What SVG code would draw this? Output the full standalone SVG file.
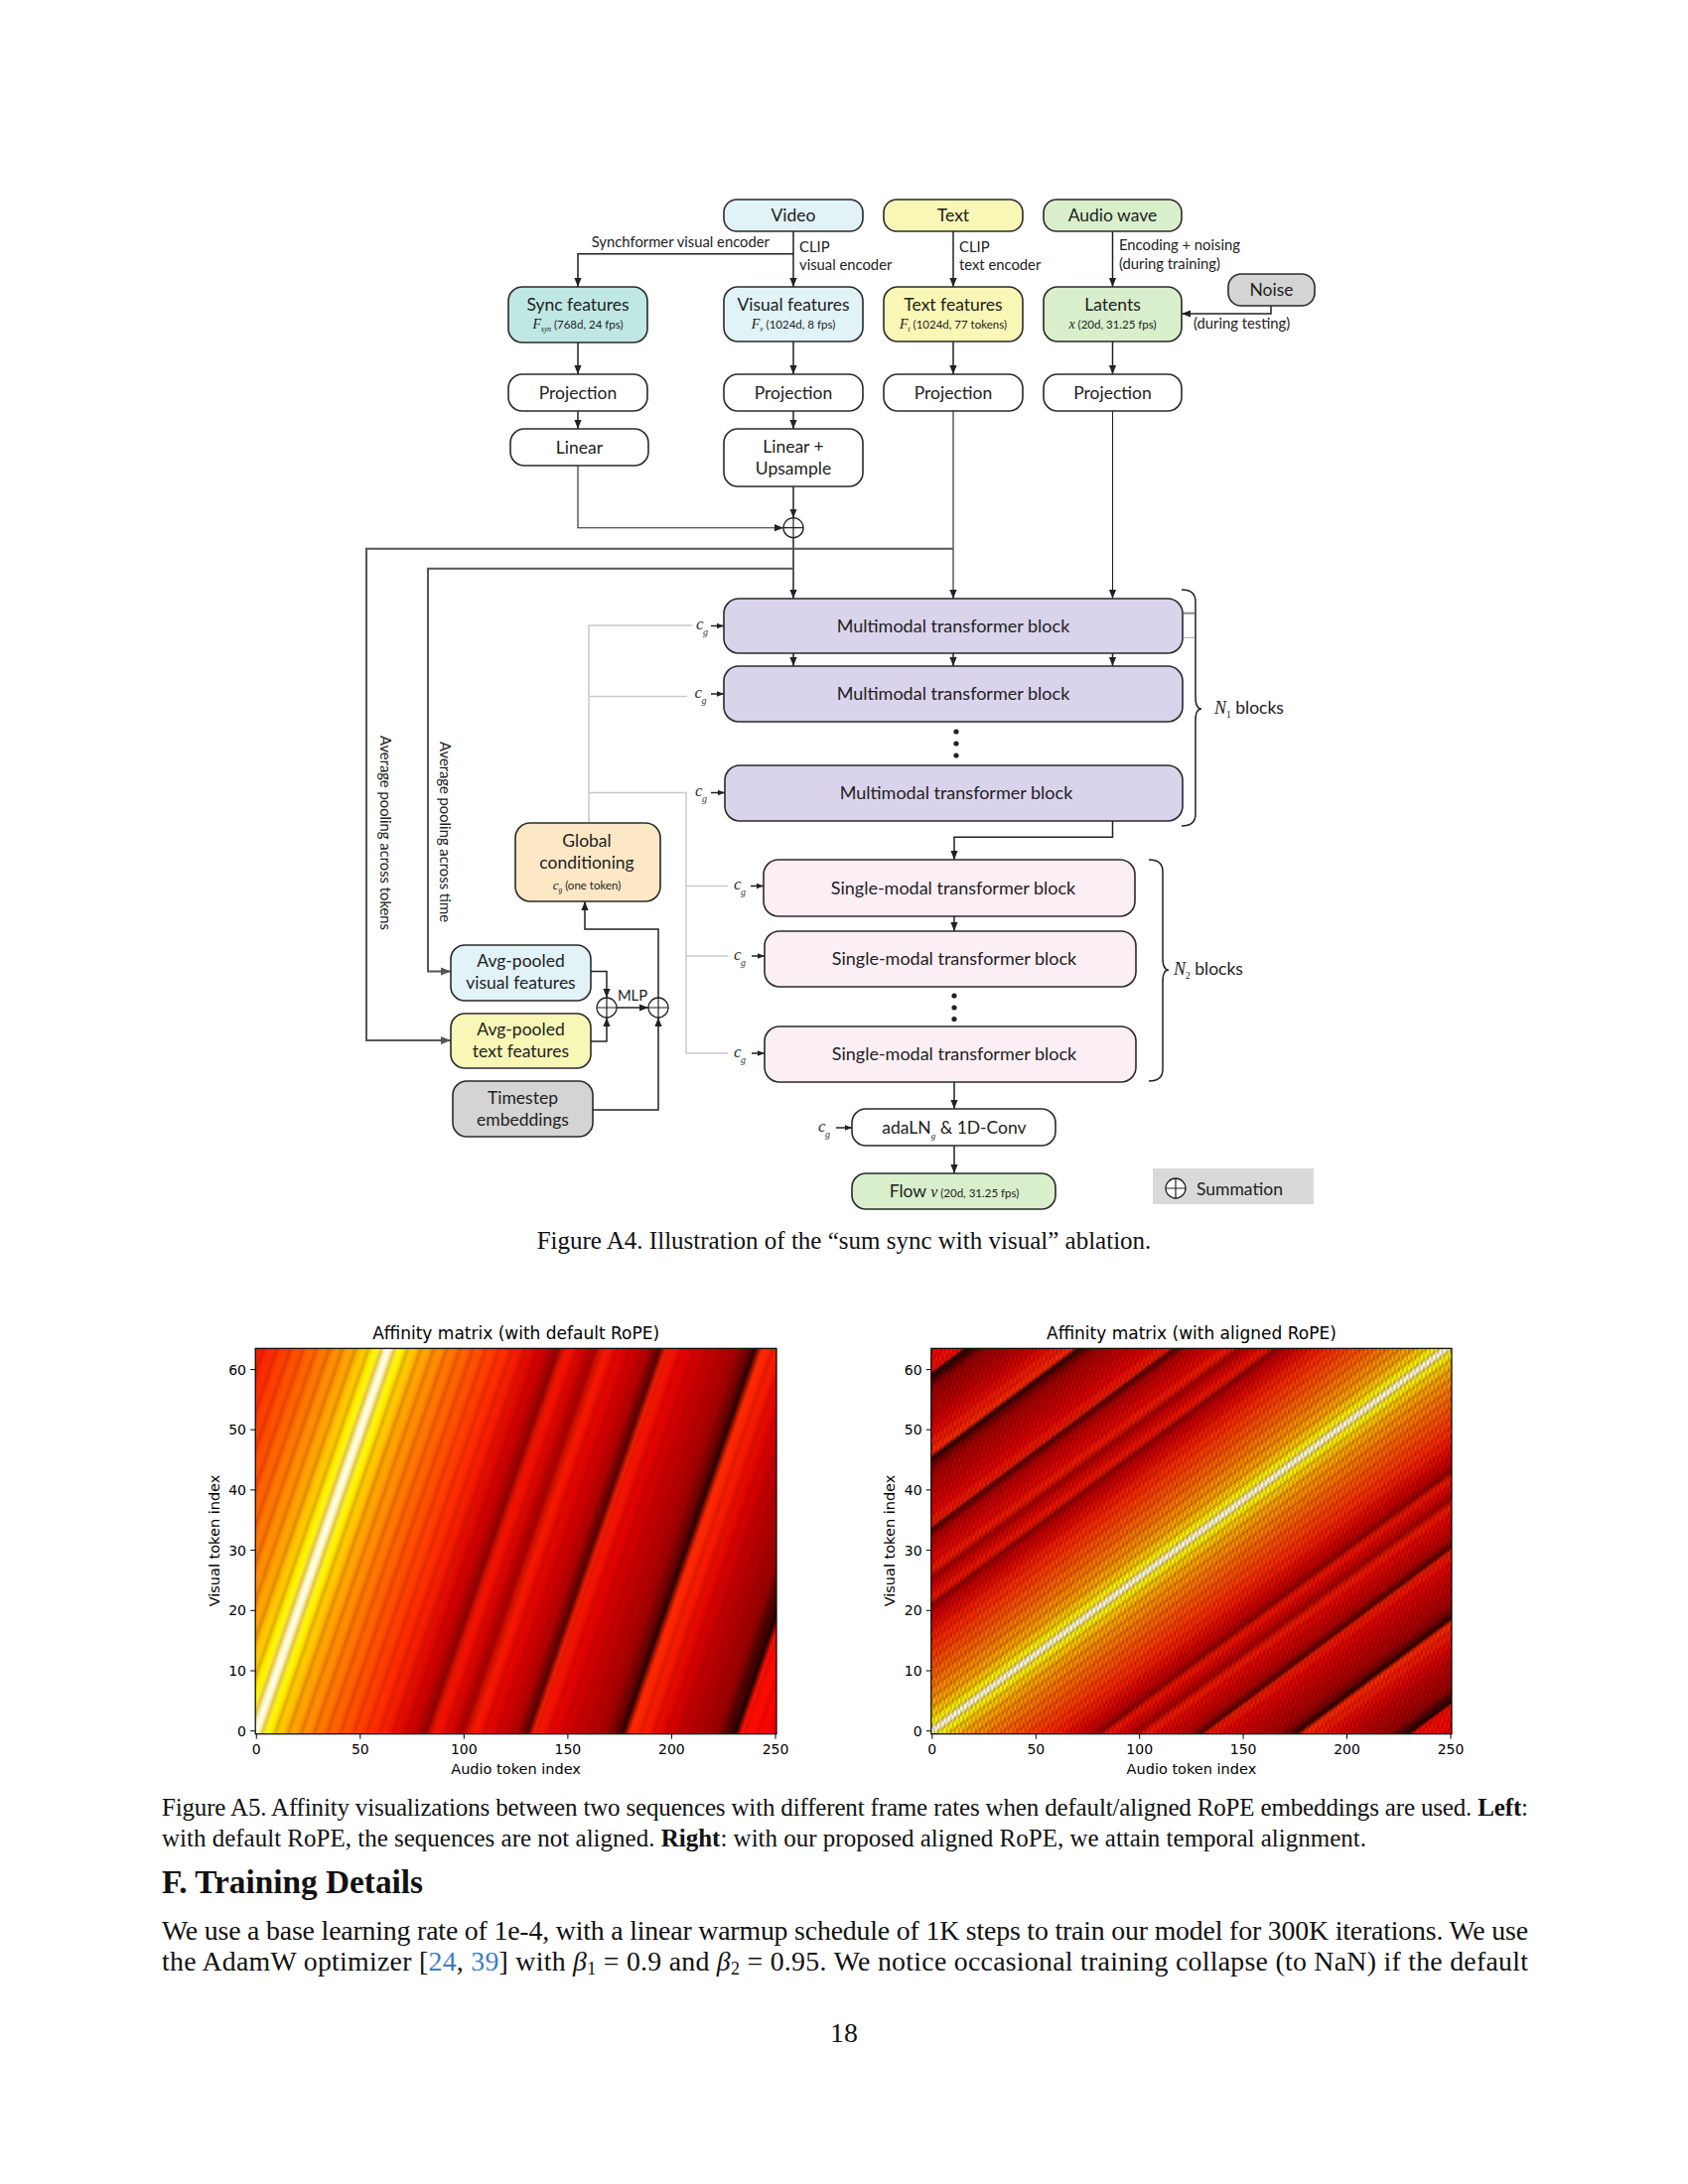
<svg xmlns="http://www.w3.org/2000/svg" width="1700" height="2200" viewBox="0 0 1700 2200">
<style>
  .box { stroke: #2a2a2a; stroke-width: 1.6; }
  .lbl { font-family: Lato, "Liberation Sans", sans-serif; font-size: 17.5px; fill: #222; text-anchor: middle; }
  .blk { font-size: 18px; }
  .start { text-anchor: start; }
  .note { font-family: Lato, "Liberation Sans", sans-serif; font-size: 14.8px; fill: #222; }
  .tiny { font-size: 11.5px; }
  .mi { font-family: "Liberation Serif", "DejaVu Serif", serif; font-style: italic; }
  .conn { fill: none; stroke: #222; stroke-width: 1.5; }
  .thin { stroke-width: 1.1; }
  .pool { fill: none; stroke: #555; stroke-width: 2; }
  .cgl { fill: none; stroke: #c9c9c9; stroke-width: 1.5; }
  .plt { font-family: "DejaVu Sans", sans-serif; fill: #000; }
  .tick { stroke: #000; stroke-width: 1; }
  .serif { font-family: "Liberation Serif", "Times New Roman", serif; fill: #111; }
</style>
<defs>
  <marker id="ah" viewBox="0 0 10 10" refX="10" refY="5" markerWidth="9" markerHeight="9" markerUnits="userSpaceOnUse" orient="auto">
    <path d="M0,1 L10,5 L0,9 z" fill="#222"/>
  </marker>
  <marker id="ahs" viewBox="0 0 10 10" refX="10" refY="5" markerWidth="7" markerHeight="7" markerUnits="userSpaceOnUse" orient="auto">
    <path d="M0,1 L10,5 L0,9 z" fill="#222"/>
  </marker>
  <marker id="ahg" viewBox="0 0 10 10" refX="10" refY="5" markerWidth="10" markerHeight="10" markerUnits="userSpaceOnUse" orient="auto">
    <path d="M0,1 L10,5 L0,9 z" fill="#555"/>
  </marker>
  <g id="sum">
    <circle r="10" fill="#fff" stroke="#222" stroke-width="1.3"/>
    <path d="M-10,0H10M0,-10V10" stroke="#222" stroke-width="1.2"/>
  </g>

  <!-- hot colormap of the RoPE affinity, as a function of the relative offset d -->
  <linearGradient id="gradL" gradientUnits="userSpaceOnUse" x1="138.63" y1="1702.49" x2="727.37" y2="1905.31">
    <stop offset="0" stop-color="#f01900"/>
    <stop offset="0.00317" stop-color="#f41c00"/>
    <stop offset="0.02540" stop-color="#ff2e00"/>
    <stop offset="0.04762" stop-color="#ff4200"/>
    <stop offset="0.06984" stop-color="#ff5600"/>
    <stop offset="0.09206" stop-color="#ff6c00"/>
    <stop offset="0.11111" stop-color="#ff8000"/>
    <stop offset="0.13016" stop-color="#ff9600"/>
    <stop offset="0.14603" stop-color="#ffa800"/>
    <stop offset="0.16190" stop-color="#ffc400"/>
    <stop offset="0.17460" stop-color="#ffe400"/>
    <stop offset="0.18413" stop-color="#fff800"/>
    <stop offset="0.19048" stop-color="#ffff30"/>
    <stop offset="0.19683" stop-color="#ffffa0"/>
    <stop offset="0.20317" stop-color="#ffffff"/>
    <stop offset="0.20952" stop-color="#ffffa0"/>
    <stop offset="0.21587" stop-color="#ffff30"/>
    <stop offset="0.22222" stop-color="#fff800"/>
    <stop offset="0.23175" stop-color="#ffe400"/>
    <stop offset="0.24444" stop-color="#ffc400"/>
    <stop offset="0.26032" stop-color="#ffa800"/>
    <stop offset="0.27619" stop-color="#ff9600"/>
    <stop offset="0.29524" stop-color="#ff8000"/>
    <stop offset="0.31429" stop-color="#ff6c00"/>
    <stop offset="0.33651" stop-color="#ff5600"/>
    <stop offset="0.35873" stop-color="#ff4200"/>
    <stop offset="0.38095" stop-color="#ff2e00"/>
    <stop offset="0.40317" stop-color="#f41c00"/>
    <stop offset="0.42222" stop-color="#e00a00"/>
    <stop offset="0.44127" stop-color="#cc0000"/>
    <stop offset="0.45397" stop-color="#b00000"/>
    <stop offset="0.46349" stop-color="#8a0000"/>
    <stop offset="0.47302" stop-color="#f41800"/>
    <stop offset="0.48889" stop-color="#ec0c00"/>
    <stop offset="0.50794" stop-color="#c20000"/>
    <stop offset="0.52063" stop-color="#a40000"/>
    <stop offset="0.53333" stop-color="#fc1e00"/>
    <stop offset="0.55238" stop-color="#e80800"/>
    <stop offset="0.57778" stop-color="#d00000"/>
    <stop offset="0.60000" stop-color="#b40000"/>
    <stop offset="0.61270" stop-color="#6c0000"/>
    <stop offset="0.61905" stop-color="#560000"/>
    <stop offset="0.62857" stop-color="#fc2000"/>
    <stop offset="0.65397" stop-color="#e60400"/>
    <stop offset="0.67937" stop-color="#d00000"/>
    <stop offset="0.71111" stop-color="#b80000"/>
    <stop offset="0.73651" stop-color="#a20000"/>
    <stop offset="0.75556" stop-color="#5c0000"/>
    <stop offset="0.76508" stop-color="#2c0000"/>
    <stop offset="0.77460" stop-color="#ff2c00"/>
    <stop offset="0.80000" stop-color="#f61a00"/>
    <stop offset="0.82540" stop-color="#e00400"/>
    <stop offset="0.85397" stop-color="#c00000"/>
    <stop offset="0.88571" stop-color="#a80000"/>
    <stop offset="0.90794" stop-color="#940000"/>
    <stop offset="0.92698" stop-color="#400000"/>
    <stop offset="0.93651" stop-color="#100000"/>
    <stop offset="0.94603" stop-color="#ff1000"/>
    <stop offset="0.97143" stop-color="#fc0800"/>
    <stop offset="1" stop-color="#f30000"/>
  </linearGradient>

  <linearGradient id="gradR" gradientUnits="userSpaceOnUse" x1="751.34" y1="1491.67" x2="1126.34" y2="1995.73">
    <stop offset="0" stop-color="#f20000"/>
    <stop offset="0.00794" stop-color="#f60000"/>
    <stop offset="0.01984" stop-color="#fc0800"/>
    <stop offset="0.03571" stop-color="#ff1000"/>
    <stop offset="0.04167" stop-color="#100000"/>
    <stop offset="0.04762" stop-color="#400000"/>
    <stop offset="0.05952" stop-color="#940000"/>
    <stop offset="0.07341" stop-color="#a80000"/>
    <stop offset="0.09325" stop-color="#c00000"/>
    <stop offset="0.11111" stop-color="#e00400"/>
    <stop offset="0.12698" stop-color="#f61a00"/>
    <stop offset="0.14286" stop-color="#ff2c00"/>
    <stop offset="0.14881" stop-color="#2c0000"/>
    <stop offset="0.15476" stop-color="#5c0000"/>
    <stop offset="0.16667" stop-color="#a20000"/>
    <stop offset="0.18254" stop-color="#b80000"/>
    <stop offset="0.20238" stop-color="#d00000"/>
    <stop offset="0.21825" stop-color="#e60400"/>
    <stop offset="0.23413" stop-color="#fc2000"/>
    <stop offset="0.24008" stop-color="#560000"/>
    <stop offset="0.24405" stop-color="#6c0000"/>
    <stop offset="0.25198" stop-color="#b40000"/>
    <stop offset="0.26587" stop-color="#d00000"/>
    <stop offset="0.28175" stop-color="#e80800"/>
    <stop offset="0.29365" stop-color="#fc1e00"/>
    <stop offset="0.30159" stop-color="#a40000"/>
    <stop offset="0.30952" stop-color="#c20000"/>
    <stop offset="0.32143" stop-color="#ec0c00"/>
    <stop offset="0.33135" stop-color="#f41800"/>
    <stop offset="0.33730" stop-color="#8a0000"/>
    <stop offset="0.34325" stop-color="#b00000"/>
    <stop offset="0.35119" stop-color="#cc0000"/>
    <stop offset="0.36310" stop-color="#e00a00"/>
    <stop offset="0.37500" stop-color="#f41c00"/>
    <stop offset="0.38889" stop-color="#ff2e00"/>
    <stop offset="0.40278" stop-color="#ff4200"/>
    <stop offset="0.41667" stop-color="#ff5600"/>
    <stop offset="0.43056" stop-color="#ff6c00"/>
    <stop offset="0.44246" stop-color="#ff8000"/>
    <stop offset="0.45437" stop-color="#ff9600"/>
    <stop offset="0.46429" stop-color="#ffa800"/>
    <stop offset="0.47421" stop-color="#ffc400"/>
    <stop offset="0.48214" stop-color="#ffe400"/>
    <stop offset="0.48810" stop-color="#fff800"/>
    <stop offset="0.49206" stop-color="#ffff30"/>
    <stop offset="0.49603" stop-color="#ffffa0"/>
    <stop offset="0.5" stop-color="#ffffff"/>
    <stop offset="0.50397" stop-color="#ffffa0"/>
    <stop offset="0.50794" stop-color="#ffff30"/>
    <stop offset="0.51190" stop-color="#fff800"/>
    <stop offset="0.51786" stop-color="#ffe400"/>
    <stop offset="0.52579" stop-color="#ffc400"/>
    <stop offset="0.53571" stop-color="#ffa800"/>
    <stop offset="0.54563" stop-color="#ff9600"/>
    <stop offset="0.55754" stop-color="#ff8000"/>
    <stop offset="0.56944" stop-color="#ff6c00"/>
    <stop offset="0.58333" stop-color="#ff5600"/>
    <stop offset="0.59722" stop-color="#ff4200"/>
    <stop offset="0.61111" stop-color="#ff2e00"/>
    <stop offset="0.62500" stop-color="#f41c00"/>
    <stop offset="0.63690" stop-color="#e00a00"/>
    <stop offset="0.64881" stop-color="#cc0000"/>
    <stop offset="0.65675" stop-color="#b00000"/>
    <stop offset="0.66270" stop-color="#8a0000"/>
    <stop offset="0.66865" stop-color="#f41800"/>
    <stop offset="0.67857" stop-color="#ec0c00"/>
    <stop offset="0.69048" stop-color="#c20000"/>
    <stop offset="0.69841" stop-color="#a40000"/>
    <stop offset="0.70635" stop-color="#fc1e00"/>
    <stop offset="0.71825" stop-color="#e80800"/>
    <stop offset="0.73413" stop-color="#d00000"/>
    <stop offset="0.74802" stop-color="#b40000"/>
    <stop offset="0.75595" stop-color="#6c0000"/>
    <stop offset="0.75992" stop-color="#560000"/>
    <stop offset="0.76587" stop-color="#fc2000"/>
    <stop offset="0.78175" stop-color="#e60400"/>
    <stop offset="0.79762" stop-color="#d00000"/>
    <stop offset="0.81746" stop-color="#b80000"/>
    <stop offset="0.83333" stop-color="#a20000"/>
    <stop offset="0.84524" stop-color="#5c0000"/>
    <stop offset="0.85119" stop-color="#2c0000"/>
    <stop offset="0.85714" stop-color="#ff2c00"/>
    <stop offset="0.87302" stop-color="#f61a00"/>
    <stop offset="0.88889" stop-color="#e00400"/>
    <stop offset="0.90675" stop-color="#c00000"/>
    <stop offset="0.92659" stop-color="#a80000"/>
    <stop offset="0.94048" stop-color="#940000"/>
    <stop offset="0.95238" stop-color="#400000"/>
    <stop offset="0.95833" stop-color="#100000"/>
    <stop offset="0.96429" stop-color="#ff1000"/>
    <stop offset="0.98016" stop-color="#fc0800"/>
    <stop offset="0.99206" stop-color="#f60000"/>
    <stop offset="1" stop-color="#f20000"/>
  </linearGradient>

  <!-- fine ripple of the highest RoPE frequency (period 2*pi in d) -->
  <linearGradient id="ripple" x1="0" y1="0" x2="1" y2="0">
    <stop offset="0" stop-color="#900000" stop-opacity="0"/>
    <stop offset="0.25" stop-color="#900000" stop-opacity="0.05"/>
    <stop offset="0.5" stop-color="#900000" stop-opacity="0.25"/>
    <stop offset="0.75" stop-color="#900000" stop-opacity="0.05"/>
    <stop offset="1" stop-color="#900000" stop-opacity="0"/>
  </linearGradient>
  <pattern id="stripesL" patternUnits="userSpaceOnUse" width="13.137" height="60" patternTransform="translate(258.25,1743.7) skewX(-19)">
    <rect width="13.137" height="60" fill="url(#ripple)"/>
  </pattern>
  <pattern id="stripesR" patternUnits="userSpaceOnUse" width="13.122" height="60" patternTransform="translate(938.84,1743.7) skewX(-53.35)">
    <rect width="13.122" height="60" fill="url(#ripple)"/>
  </pattern>
  <pattern id="checkR" patternUnits="userSpaceOnUse" x="937.8" y="1358.3" width="4.1768" height="12.138">
    <rect x="0" y="0" width="2.0884" height="6.069" fill="#000" fill-opacity="0.2"/>
    <rect x="2.0884" y="6.069" width="2.0884" height="6.069" fill="#000" fill-opacity="0.2"/>
  </pattern>
</defs>

<rect width="1700" height="2200" fill="#fff"/>

<!-- ================= Figure A4: architecture ================= -->
<g id="connectors">
  <!-- inputs to encoders -->
  <path class="conn" d="M799,233 V289" marker-end="url(#ah)"/>
  <path class="conn" stroke-width="2" d="M799,255.7 H582 V289" marker-end="url(#ah)"/>
  <path class="conn" d="M960,233 V289" marker-end="url(#ah)"/>
  <path class="conn" d="M1120.5,233 V289" marker-end="url(#ah)"/>
  <path class="conn" d="M1280,308 V316 H1190" marker-end="url(#ah)"/>
  <!-- features to projections -->
  <path class="conn" d="M582,345 V377" marker-end="url(#ah)"/>
  <path class="conn" d="M799,344 V377" marker-end="url(#ah)"/>
  <path class="conn" d="M960,344 V377" marker-end="url(#ah)"/>
  <path class="conn" d="M1120.5,344 V377" marker-end="url(#ah)"/>
  <path class="conn" d="M582,414 V432" marker-end="url(#ah)"/>
  <path class="conn" d="M799,414 V432" marker-end="url(#ah)"/>
  <!-- sync + visual summation -->
  <path class="conn thin" d="M582,469 V531.7 H789" marker-end="url(#ah)"/>
  <path class="conn" d="M799,490 V521.7" marker-end="url(#ah)"/>
  <path class="conn" d="M799,541.7 V603" marker-end="url(#ah)"/>
  <path class="conn thin" d="M960,414 V603" marker-end="url(#ah)"/>
  <path class="conn thin" d="M1120.5,414 V603" marker-end="url(#ah)"/>
  <!-- average pooling branches -->
  <path class="pool" d="M960,552.7 H369 V1048 H454" marker-end="url(#ahg)"/>
  <path class="pool" d="M799,572.7 H431 V978.5 H454" marker-end="url(#ahg)"/>
  <!-- between multimodal blocks -->
  <path class="conn" d="M799,658 V671" marker-end="url(#ah)"/>
  <path class="conn" d="M960,658 V671" marker-end="url(#ah)"/>
  <path class="conn" d="M1120.5,658 V671" marker-end="url(#ah)"/>
  <path class="conn" d="M1120.5,827 V843.3 H961 V866" marker-end="url(#ah)"/>
  <path class="conn" d="M961,923 V938" marker-end="url(#ah)"/>
  <path class="conn" d="M961,1090 V1117" marker-end="url(#ah)"/>
  <path class="conn" d="M961,1154 V1182" marker-end="url(#ah)"/>
  <!-- global conditioning distribution -->
  <path class="cgl" d="M593,829 V630 H697"/>
  <path class="cgl" d="M593,701.5 H692"/>
  <path class="cgl" d="M593,798.5 H691 V1061 H733"/>
  <path class="cgl" d="M691,892.5 H733"/>
  <path class="cgl" stroke-width="1" d="M691,963 H733"/>
  <path class="conn" d="M716,630.5 H729" marker-end="url(#ahs)"/>
  <path class="conn" d="M716,699 H729" marker-end="url(#ahs)"/>
  <path class="conn" d="M716,798.5 H730" marker-end="url(#ahs)"/>
  <path class="conn" d="M756,892.5 H769" marker-end="url(#ahs)"/>
  <path class="conn" d="M757,963 H770" marker-end="url(#ahs)"/>
  <path class="conn" d="M757,1061 H770" marker-end="url(#ahs)"/>
  <path class="conn" d="M842,1136 H858" marker-end="url(#ahs)"/>
  <!-- conditioning MLP path -->
  <path class="conn" d="M595,978.5 H611 V1005" marker-end="url(#ah)"/>
  <path class="conn" d="M595,1049 H611 V1025" marker-end="url(#ah)"/>
  <path class="conn" d="M621,1015 H653" marker-end="url(#ah)"/>
  <path class="conn" d="M597,1118 H663 V1025" marker-end="url(#ah)"/>
  <path class="conn" d="M663,1005 V936 H589 V908" marker-end="url(#ah)"/>
  <!-- braces -->
  <path class="conn" stroke-width="1.4" d="M1190,594 Q1204,594 1204,606 V702 Q1204,714 1210,714 Q1204,714 1204,726 V820 Q1204,832 1190,832"/>
  <path d="M1192,617.7 H1203" stroke="#888" stroke-width="2"/>
  <path d="M1192,642.3 H1203" stroke="#aaa" stroke-width="1"/>
  <path class="conn" stroke-width="1.4" d="M1157,866 Q1171,866 1171,878 V965 Q1171,977 1177,977 Q1171,977 1171,989 V1077 Q1171,1089 1157,1089"/>
</g>

<g id="encoder-labels" class="note">
  <text x="775" y="248.5" text-anchor="end">Synchformer visual encoder</text>
  <text x="805" y="253.5">CLIP</text>
  <text x="805" y="271.5">visual encoder</text>
  <text x="966" y="253.5">CLIP</text>
  <text x="966" y="271.5">text encoder</text>
  <text x="1127" y="252">Encoding + noising</text>
  <text x="1127" y="270.5">(during training)</text>
  <text x="1202" y="330.5">(during testing)</text>
</g>

<g id="video">
  <rect class="box" x="729" y="201" width="140" height="32" rx="13" fill="#e1f3f7"/>
  <text class="lbl" x="799" y="223">Video</text>
</g>
<g id="text">
  <rect class="box" x="890" y="201" width="140" height="32" rx="13" fill="#f9f7b5"/>
  <text class="lbl" x="960" y="223">Text</text>
</g>
<g id="audio-wave">
  <rect class="box" x="1051" y="201" width="139" height="32" rx="13" fill="#d9efcc"/>
  <text class="lbl" x="1120.5" y="223">Audio wave</text>
</g>
<g id="noise">
  <rect class="box" x="1237" y="276" width="87" height="32" rx="13" fill="#d4d4d4"/>
  <text class="lbl" x="1280.5" y="298">Noise</text>
</g>

<g id="sync-features">
  <rect class="box" x="512" y="289" width="140" height="56" rx="14" fill="#bfe8e3"/>
  <text class="lbl" x="582" y="313">Sync features</text>
  <text class="lbl tiny" x="582" y="331"><tspan class="mi" font-size="14">F</tspan><tspan class="mi" font-size="7.5" dy="3">syn</tspan><tspan dy="-3"> (768d, 24 fps)</tspan></text>
</g>
<g id="visual-features">
  <rect class="box" x="729" y="289" width="140" height="55" rx="14" fill="#e1f3f7"/>
  <text class="lbl" x="799" y="313">Visual features</text>
  <text class="lbl tiny" x="799" y="331"><tspan class="mi" font-size="14">F</tspan><tspan class="mi" font-size="7.5" dy="3">v</tspan><tspan dy="-3"> (1024d, 8 fps)</tspan></text>
</g>
<g id="text-features">
  <rect class="box" x="890" y="289" width="140" height="55" rx="14" fill="#f9f7b5"/>
  <text class="lbl" x="960" y="313">Text features</text>
  <text class="lbl tiny" x="960" y="331"><tspan class="mi" font-size="14">F</tspan><tspan class="mi" font-size="7.5" dy="3">t</tspan><tspan dy="-3"> (1024d, 77 tokens)</tspan></text>
</g>
<g id="latents">
  <rect class="box" x="1051" y="289" width="139" height="55" rx="14" fill="#d9efcc"/>
  <text class="lbl" x="1120.5" y="313">Latents</text>
  <text class="lbl tiny" x="1120.5" y="331"><tspan class="mi" font-size="14">x</tspan> (20d, 31.25 fps)</text>
</g>

<g id="projection-sync">
  <rect class="box" x="512" y="377" width="140" height="37" rx="14" fill="#fff"/>
  <text class="lbl" x="582" y="401.5">Projection</text>
</g>
<g id="projection-visual">
  <rect class="box" x="729" y="377" width="140" height="37" rx="14" fill="#fff"/>
  <text class="lbl" x="799" y="401.5">Projection</text>
</g>
<g id="projection-text">
  <rect class="box" x="890" y="377" width="140" height="37" rx="14" fill="#fff"/>
  <text class="lbl" x="960" y="401.5">Projection</text>
</g>
<g id="projection-audio">
  <rect class="box" x="1051" y="377" width="139" height="37" rx="14" fill="#fff"/>
  <text class="lbl" x="1120.5" y="401.5">Projection</text>
</g>
<g id="linear">
  <rect class="box" x="514" y="432" width="139" height="37" rx="14" fill="#fff"/>
  <text class="lbl" x="583.5" y="456.5">Linear</text>
</g>
<g id="linear-upsample">
  <rect class="box" x="729" y="432" width="140" height="58" rx="14" fill="#fff"/>
  <text class="lbl" x="799" y="456">Linear +</text>
  <text class="lbl" x="799" y="478">Upsample</text>
</g>
<g id="sum-sync-visual"><use href="#sum" x="799" y="531.7"/></g>

<g id="mm-block-1">
  <rect class="box" x="729" y="603" width="462" height="55" rx="15" fill="#dad3ec"/>
  <text class="lbl blk" x="960" y="636.5">Multimodal transformer block</text>
</g>
<g id="mm-block-2">
  <rect class="box" x="729" y="671" width="462" height="56" rx="15" fill="#dad3ec"/>
  <text class="lbl blk" x="960" y="705">Multimodal transformer block</text>
</g>
<g id="mm-dots" fill="#222">
  <circle cx="963" cy="737" r="2.6"/><circle cx="963" cy="749" r="2.6"/><circle cx="963" cy="761" r="2.6"/>
</g>
<g id="mm-block-3">
  <rect class="box" x="730" y="771" width="461" height="56" rx="15" fill="#dad3ec"/>
  <text class="lbl blk" x="963" y="805">Multimodal transformer block</text>
</g>
<g id="n1-label">
  <text x="1223" y="719" class="lbl start"><tspan class="mi" font-size="18">N</tspan><tspan font-family="Liberation Serif, serif" font-size="9.5" dy="4">1</tspan><tspan dy="-4"> blocks</tspan></text>
</g>

<g id="sm-block-1">
  <rect class="box" x="769" y="866" width="374" height="57" rx="15" fill="#fceef5"/>
  <text class="lbl blk" x="960" y="900.5">Single-modal transformer block</text>
</g>
<g id="sm-block-2">
  <rect class="box" x="770" y="938" width="374" height="56" rx="15" fill="#fceef5"/>
  <text class="lbl blk" x="961" y="972">Single-modal transformer block</text>
</g>
<g id="sm-dots" fill="#222">
  <circle cx="961" cy="1003" r="2.6"/><circle cx="961" cy="1015" r="2.6"/><circle cx="961" cy="1026.5" r="2.6"/>
</g>
<g id="sm-block-3">
  <rect class="box" x="770" y="1034" width="374" height="56" rx="15" fill="#fceef5"/>
  <text class="lbl blk" x="961" y="1068">Single-modal transformer block</text>
</g>
<g id="n2-label">
  <text x="1182" y="982" class="lbl start"><tspan class="mi" font-size="18">N</tspan><tspan font-family="Liberation Serif, serif" font-size="9.5" dy="4">2</tspan><tspan dy="-4"> blocks</tspan></text>
</g>

<g id="cg-labels" class="mi" fill="#333">
  <text x="701" y="634" font-size="17">c</text><text x="708" y="640" font-size="10">g</text>
  <text x="699.5" y="702.5" font-size="17">c</text><text x="706.5" y="708.5" font-size="10">g</text>
  <text x="700" y="802" font-size="17">c</text><text x="707" y="808" font-size="10">g</text>
  <text x="739" y="896" font-size="17">c</text><text x="746" y="902" font-size="10">g</text>
  <text x="739" y="966.5" font-size="17">c</text><text x="746" y="972.5" font-size="10">g</text>
  <text x="739" y="1064.5" font-size="17">c</text><text x="746" y="1070.5" font-size="10">g</text>
  <text x="824" y="1139.5" font-size="17">c</text><text x="831" y="1145.5" font-size="10">g</text>
</g>

<g id="global-conditioning">
  <rect class="box" x="519" y="829" width="146" height="79" rx="15" fill="#fde8c6"/>
  <text class="lbl" x="591" y="852.5">Global</text>
  <text class="lbl" x="591" y="874.5">conditioning</text>
  <text class="lbl tiny" x="591" y="896"><tspan class="mi" font-size="13">c</tspan><tspan class="mi" font-size="7.5" dy="3">g</tspan><tspan dy="-3"> (one token)</tspan></text>
</g>

<g id="pooling-labels" class="note">
  <text transform="translate(382.5,839) rotate(90)" text-anchor="middle">Average pooling across tokens</text>
  <text transform="translate(443,838) rotate(90)" text-anchor="middle">Average pooling across time</text>
</g>

<g id="avg-pooled-visual">
  <rect class="box" x="454" y="952" width="141" height="56" rx="14" fill="#e1f3f7"/>
  <text class="lbl" x="524.5" y="974">Avg-pooled</text>
  <text class="lbl" x="524.5" y="996">visual features</text>
</g>
<g id="avg-pooled-text">
  <rect class="box" x="454" y="1021" width="141" height="55" rx="14" fill="#f9f7b5"/>
  <text class="lbl" x="524.5" y="1042.5">Avg-pooled</text>
  <text class="lbl" x="524.5" y="1064.5">text features</text>
</g>
<g id="timestep-embeddings">
  <rect class="box" x="456" y="1089" width="141" height="56" rx="14" fill="#d4d4d4"/>
  <text class="lbl" x="526.5" y="1112">Timestep</text>
  <text class="lbl" x="526.5" y="1134">embeddings</text>
</g>
<g id="sum-pooled"><use href="#sum" x="611" y="1015"/></g>
<g id="sum-timestep"><use href="#sum" x="663" y="1015"/></g>
<text class="note" x="637" y="1008" font-size="12.5" text-anchor="middle">MLP</text>

<g id="adaln-conv">
  <rect class="box" x="858" y="1117" width="205" height="37" rx="14" fill="#fff"/>
  <text class="lbl" x="961" y="1141.5">adaLN<tspan class="mi" font-size="9" dy="5">g</tspan><tspan dy="-5"> &amp; 1D-Conv</tspan></text>
</g>
<g id="flow">
  <rect class="box" x="858" y="1182" width="205" height="36" rx="14" fill="#d9efcc"/>
  <text class="lbl" x="961" y="1206">Flow <tspan class="mi" font-size="16">v</tspan><tspan class="tiny"> (20d, 31.25 fps)</tspan></text>
</g>

<g id="legend-summation">
  <rect x="1161" y="1177" width="162" height="36" fill="#d9d9d9"/>
  <use href="#sum" x="1184" y="1197"/>
  <text class="lbl start" x="1205" y="1203.5">Summation</text>
</g>

<text class="serif" x="850" y="1258" font-size="25" text-anchor="middle">Figure A4. Illustration of the “sum sync with visual” ablation.</text>

<!-- ================= Figure A5: affinity matrices ================= -->
<g id="plot-default-rope">
  <rect x="257.2" y="1358.3" width="524.8" height="388.4" fill="url(#gradL)"/>
  <rect x="257.2" y="1358.3" width="524.8" height="388.4" fill="url(#stripesL)"/>
  <rect x="257.2" y="1358.3" width="524.8" height="388.4" fill="none" stroke="#000" stroke-width="1.2"/>
  <g class="tick">
    <path d="M252.2,1743.7H257.2M252.2,1683H257.2M252.2,1622.3H257.2M252.2,1561.6H257.2M252.2,1500.9H257.2M252.2,1440.2H257.2M252.2,1379.6H257.2"/>
    <path d="M258.25,1746.7V1751.7M362.8,1746.7V1751.7M467.3,1746.7V1751.7M571.9,1746.7V1751.7M676.4,1746.7V1751.7M781,1746.7V1751.7"/>
  </g>
  <g class="plt" font-size="14" text-anchor="end">
    <text x="248" y="1748.7">0</text><text x="248" y="1688">10</text><text x="248" y="1627.3">20</text>
    <text x="248" y="1566.6">30</text><text x="248" y="1505.9">40</text><text x="248" y="1445.2">50</text><text x="248" y="1384.6">60</text>
  </g>
  <g class="plt" font-size="14" text-anchor="middle">
    <text x="258.25" y="1767">0</text><text x="362.8" y="1767">50</text><text x="467.3" y="1767">100</text>
    <text x="571.9" y="1767">150</text><text x="676.4" y="1767">200</text><text x="781" y="1767">250</text>
  </g>
  <text class="plt" x="519.6" y="1349" font-size="17" text-anchor="middle">Affinity matrix (with default RoPE)</text>
  <text class="plt" x="519.6" y="1787" font-size="14.5" text-anchor="middle">Audio token index</text>
  <text class="plt" transform="translate(221,1552) rotate(-90)" font-size="14.5" text-anchor="middle">Visual token index</text>
</g>

<g id="plot-aligned-rope">
  <rect x="937.8" y="1358.3" width="524.2" height="388.4" fill="url(#gradR)"/>
  <rect x="937.8" y="1358.3" width="524.2" height="388.4" fill="url(#stripesR)"/>
  <rect x="937.8" y="1358.3" width="524.2" height="388.4" fill="url(#checkR)"/>
  <rect x="937.8" y="1358.3" width="524.2" height="388.4" fill="none" stroke="#000" stroke-width="1.2"/>
  <g class="tick">
    <path d="M932.8,1743.7H937.8M932.8,1683H937.8M932.8,1622.3H937.8M932.8,1561.6H937.8M932.8,1500.9H937.8M932.8,1440.2H937.8M932.8,1379.6H937.8"/>
    <path d="M938.8,1746.7V1751.7M1043.3,1746.7V1751.7M1147.7,1746.7V1751.7M1252.1,1746.7V1751.7M1356.5,1746.7V1751.7M1461,1746.7V1751.7"/>
  </g>
  <g class="plt" font-size="14" text-anchor="end">
    <text x="928.6" y="1748.7">0</text><text x="928.6" y="1688">10</text><text x="928.6" y="1627.3">20</text>
    <text x="928.6" y="1566.6">30</text><text x="928.6" y="1505.9">40</text><text x="928.6" y="1445.2">50</text><text x="928.6" y="1384.6">60</text>
  </g>
  <g class="plt" font-size="14" text-anchor="middle">
    <text x="938.8" y="1767">0</text><text x="1043.3" y="1767">50</text><text x="1147.7" y="1767">100</text>
    <text x="1252.1" y="1767">150</text><text x="1356.5" y="1767">200</text><text x="1461" y="1767">250</text>
  </g>
  <text class="plt" x="1199.9" y="1349" font-size="17" text-anchor="middle">Affinity matrix (with aligned RoPE)</text>
  <text class="plt" x="1199.9" y="1787" font-size="14.5" text-anchor="middle">Audio token index</text>
  <text class="plt" transform="translate(901,1552) rotate(-90)" font-size="14.5" text-anchor="middle">Visual token index</text>
</g>

<!-- ================= page text ================= -->
<g id="page-text" class="serif">
  <text x="163" y="1828.5" font-size="25" textLength="1376" lengthAdjust="spacing">Figure A5. Affinity visualizations between two sequences with different frame rates when default/aligned RoPE embeddings are used. <tspan font-weight="bold">Left</tspan>:</text>
  <text x="163" y="1859.5" font-size="25">with default RoPE, the sequences are not aligned. <tspan font-weight="bold">Right</tspan>: with our proposed aligned RoPE, we attain temporal alignment.</text>
  <text x="163" y="1907" font-size="33.3" font-weight="bold">F. Training Details</text>
  <text x="163" y="1954" font-size="27.8" textLength="1376" lengthAdjust="spacing">We use a base learning rate of 1e-4, with a linear warmup schedule of 1K steps to train our model for 300K iterations. We use</text>
  <text x="163" y="1985" font-size="27.8" textLength="1376" lengthAdjust="spacing">the AdamW optimizer [<tspan fill="#3b7cc4">24</tspan>, <tspan fill="#3b7cc4">39</tspan>] with <tspan font-style="italic">β</tspan><tspan font-size="18" dy="4">1</tspan><tspan dy="-4"> = 0.9 and </tspan><tspan font-style="italic">β</tspan><tspan font-size="18" dy="4">2</tspan><tspan dy="-4"> = 0.95. We notice occasional training collapse (to NaN) if the default</tspan></text>
  <text x="850" y="2057" font-size="27.8" text-anchor="middle">18</text>
</g>
</svg>
